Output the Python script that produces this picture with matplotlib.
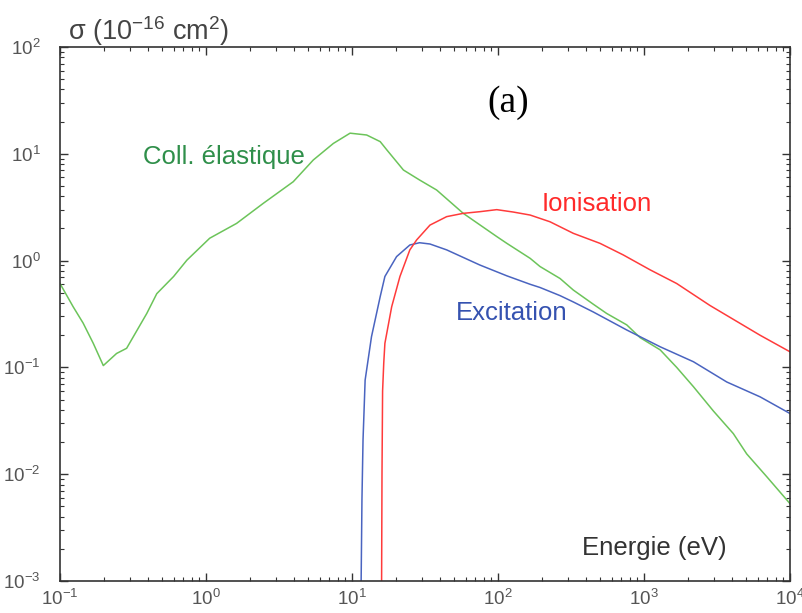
import matplotlib
matplotlib.use("Agg")
import matplotlib.pyplot as plt
from matplotlib.ticker import LogLocator

plt.rcParams["font.family"] = ["Liberation Sans", "DejaVu Sans"]
plt.rcParams["mathtext.fontset"] = "custom"
plt.rcParams["mathtext.rm"] = "Liberation Sans"
plt.rcParams["mathtext.it"] = "Liberation Sans:italic"
plt.rcParams["mathtext.bf"] = "Liberation Sans:bold"

# Cross sections (1e-16 cm^2) versus electron energy (eV)
energy_elastic = [0.1, 0.123, 0.144, 0.169, 0.198, 0.244, 0.286, 0.318, 0.393, 0.46,
                  0.6, 0.74, 1.06, 1.62, 2.47, 3.96, 5.43, 7.45, 9.7, 12.6,
                  15.6, 17.3, 22.5, 29, 38, 57.8, 98, 115, 166, 194,
                  266, 328, 450, 555, 762, 940, 1290, 1675, 2180, 2990,
                  4090, 5050, 6920, 10000]
sigma_elastic = [0.61, 0.37, 0.26, 0.168, 0.104, 0.135, 0.151, 0.194, 0.32, 0.49,
                 0.71, 1.01, 1.62, 2.23, 3.44, 5.48, 8.75, 12.5, 15.6, 15.0,
                 13.0, 10.9, 7.05, 5.69, 4.58, 2.77, 1.68, 1.45, 1.05, 0.88,
                 0.68, 0.53, 0.39, 0.32, 0.25, 0.19, 0.146, 0.10, 0.066, 0.039,
                 0.024, 0.0155, 0.0095, 0.0053]

energy_excitation = [11.45, 11.55, 11.7, 11.9, 12.1, 12.3, 13.6, 15.6, 16.8, 20.2,
                     24.9, 29, 34.2, 44.5, 75, 115, 166, 194, 266, 328,
                     450, 762, 1290, 2180, 3690, 6240, 10000]
sigma_excitation = [0.0005, 0.001, 0.0058, 0.021, 0.04, 0.076, 0.194, 0.46, 0.71, 1.09,
                    1.40, 1.47, 1.43, 1.26, 0.91, 0.72, 0.60, 0.56, 0.47, 0.41,
                    0.33, 0.224, 0.156, 0.113, 0.073, 0.053, 0.037]

energy_ionisation = [15.9, 15.95, 16.05, 16.2, 16.5, 16.8, 18.7, 21.3, 24.9, 27.7,
                     34.2, 44.5, 57.8, 75, 98, 127, 166, 227, 328, 500,
                     721, 1100, 1675, 2830, 6240, 10000]
sigma_ionisation = [0.0005, 0.001, 0.01, 0.06, 0.11, 0.168, 0.37, 0.71, 1.26, 1.56,
                    2.15, 2.58, 2.77, 2.87, 3.0, 2.85, 2.67, 2.31, 1.80, 1.45,
                    1.13, 0.82, 0.61, 0.38, 0.2, 0.14]

fig = plt.figure(figsize=(8.03, 6.13), dpi=100)
ax = fig.add_axes([60 / 803, 1 - 581 / 613, 730 / 803, 534 / 613])

ax.plot(energy_elastic, sigma_elastic, color="#6cc45a", lw=1.1)
ax.plot(energy_excitation, sigma_excitation, color="#4a64c0", lw=1.1)
ax.plot(energy_ionisation, sigma_ionisation, color="#ff3b3b", lw=1.1)

ax.set_xscale("log")
ax.set_yscale("log")
ax.set_xlim(0.1, 1e4)
ax.set_ylim(1e-3, 1e2)

ax.xaxis.set_major_locator(LogLocator(base=10, numticks=10))
ax.yaxis.set_major_locator(LogLocator(base=10, numticks=10))
ax.xaxis.set_minor_locator(LogLocator(base=10, subs=range(2, 10), numticks=20))
ax.yaxis.set_minor_locator(LogLocator(base=10, subs=range(2, 10), numticks=20))

ax.tick_params(which="both", direction="in", top=True, right=True, color="#333333")
ax.tick_params(which="major", length=6, width=1.0)
ax.tick_params(which="minor", length=3, width=0.8)
ax.tick_params(axis="x", which="major", labelsize=13.5, labelcolor="#555555", pad=6)
ax.tick_params(axis="y", which="major", labelsize=13.5, labelcolor="#555555", pad=14)
for s in ax.spines.values():
    s.set_color("#333333")
    s.set_linewidth(1.2)

fig.text(68 / 803, 1 - 31 / 613, r"σ (10$^{-16}$ cm$^{2}$)", fontsize=19.5,
         color="#444444", ha="left", va="center")
fig.text(727 / 803, 1 - 548 / 613, "Energie (eV)", fontsize=18.5,
         color="#333333", ha="right", va="center")
fig.text(508 / 803, 1 - 103 / 613, "(a)", fontsize=27, color="black",
         family=["Liberation Serif", "DejaVu Serif"], ha="center", va="center")
fig.text(224 / 803, 1 - 157 / 613, "Coll. élastique", fontsize=18.5,
         color="#2f8f4a", ha="center", va="center")
fig.text(597 / 803, 1 - 204 / 613, "Ionisation", fontsize=18.5,
         color="#ff2a2a", ha="center", va="center")
fig.text(512 / 803, 1 - 313 / 613, "Excitation", fontsize=18.5,
         color="#3552b0", ha="center", va="center")

fig.savefig("out.png", dpi=100)
